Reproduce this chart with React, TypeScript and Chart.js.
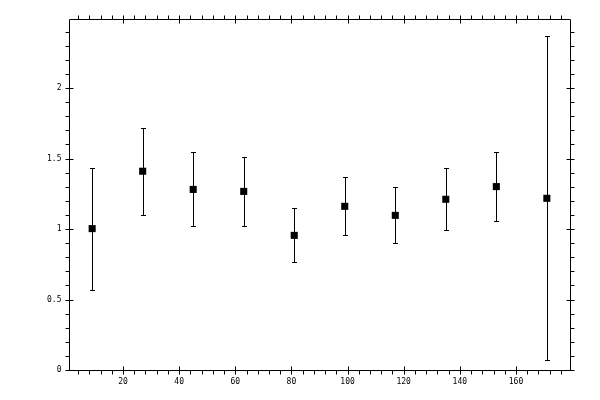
import React, { useEffect, useRef } from 'react';
import { Chart, registerables } from 'chart.js';

Chart.register(...registerables);

// bin centres and measured ratio with symmetric errors
const binCenters = [9, 27, 45, 63, 81, 99, 117, 135, 153, 171];
const ratioValues = [1.003, 1.41, 1.281, 1.267, 0.955, 1.161, 1.097, 1.211, 1.301, 1.218];
const ratioErrors = [0.432, 0.31, 0.263, 0.245, 0.192, 0.206, 0.199, 0.22, 0.245, 1.15];

const xMajorTicks = [20, 40, 60, 80, 100, 120, 140, 160];
const yMajorTicks = [0, 0.5, 1, 1.5, 2];
const xMinorStep = 4;
const yMinorStep = 0.1;

const X_MIN = 0.75;
const X_MAX = 179.25;
const Y_MIN = 0;
const Y_MAX = 2.49;

const FONT = '8px "DejaVu Sans Mono", monospace';

const framePlugin = {
  id: 'frameAndErrors',
  afterDatasetsDraw(chart: any) {
    const { ctx, chartArea, scales } = chart;
    const xs = scales.x;
    const ys = scales.y;
    const L = Math.round(chartArea.left) + 0.5;
    const R = Math.round(chartArea.right) + 0.5;
    const T = Math.round(chartArea.top) + 0.5;
    const B = Math.round(chartArea.bottom) + 0.5;
    ctx.save();
    ctx.strokeStyle = '#000';
    ctx.lineWidth = 1;

    // frame
    ctx.beginPath();
    ctx.rect(L, T, R - L, B - T);
    ctx.stroke();

    ctx.beginPath();
    // x ticks on bottom and top (minor outward, major crossing)
    for (let v = xMinorStep; v < X_MAX; v += xMinorStep) {
      if (v < X_MIN) continue;
      const px = Math.round(xs.getPixelForValue(v)) + 0.5;
      const major = xMajorTicks.includes(Math.round(v * 1000) / 1000);
      if (major) {
        ctx.moveTo(px, B - 4); ctx.lineTo(px, B + 4);
        ctx.moveTo(px, T - 4); ctx.lineTo(px, T + 4);
      } else {
        ctx.moveTo(px, B); ctx.lineTo(px, B + 4);
        ctx.moveTo(px, T); ctx.lineTo(px, T - 4);
      }
    }
    // y ticks on left and right
    for (let i = 0; i * yMinorStep <= Y_MAX + 1e-9; i++) {
      const v = Math.round(i * yMinorStep * 1000) / 1000;
      const py = Math.round(ys.getPixelForValue(v)) + 0.5;
      const major = yMajorTicks.includes(v);
      if (major) {
        ctx.moveTo(L - 4, py); ctx.lineTo(L + 4, py);
        ctx.moveTo(R - 4, py); ctx.lineTo(R + 4, py);
      } else {
        ctx.moveTo(L, py); ctx.lineTo(L - 4, py);
        ctx.moveTo(R, py); ctx.lineTo(R + 4, py);
      }
    }
    ctx.stroke();

    // labels
    ctx.fillStyle = '#000';
    ctx.font = FONT;
    ctx.textAlign = 'center';
    ctx.textBaseline = 'middle';
    xMajorTicks.forEach((v) => {
      ctx.fillText(String(v), xs.getPixelForValue(v), B + 11);
    });
    ctx.textAlign = 'right';
    yMajorTicks.forEach((v) => {
      ctx.fillText(String(v), L - 8, ys.getPixelForValue(v));
    });

    // error bars
    ctx.beginPath();
    binCenters.forEach((x, i) => {
      const px = Math.round(xs.getPixelForValue(x)) + 0.5;
      const top = Math.round(ys.getPixelForValue(ratioValues[i] + ratioErrors[i])) + 0.5;
      const bot = Math.round(ys.getPixelForValue(ratioValues[i] - ratioErrors[i])) + 0.5;
      ctx.moveTo(px, top); ctx.lineTo(px, bot);
      ctx.moveTo(px - 2.5, top); ctx.lineTo(px + 2.5, top);
      ctx.moveTo(px - 2.5, bot); ctx.lineTo(px + 2.5, bot);
    });
    ctx.stroke();
    ctx.restore();
  },
};

const RatioChart: React.FC = () => {
  const chartRef = useRef<HTMLCanvasElement>(null);
  const chartInstanceRef = useRef<Chart | null>(null);

  useEffect(() => {
    document.body.style.margin = '0';
    if (chartRef.current) {
      if (chartInstanceRef.current) {
        chartInstanceRef.current.destroy();
      }
      const ctx = chartRef.current.getContext('2d');
      if (ctx) {
        chartInstanceRef.current = new Chart(ctx, {
          type: 'scatter',
          data: {
            datasets: [{
              data: binCenters.map((x, i) => ({ x, y: ratioValues[i] })),
              backgroundColor: '#000',
              borderColor: '#000',
              borderWidth: 0,
              pointStyle: 'rect',
              pointRadius: 5,
              pointHoverRadius: 5,
            }]
          },
          options: {
            animation: false,
            responsive: false,
            events: [],
            layout: { padding: { left: 69, right: 30, top: 19, bottom: 30 } },
            scales: {
              x: { type: 'linear', min: X_MIN, max: X_MAX, display: false },
              y: { type: 'linear', min: Y_MIN, max: Y_MAX, display: false }
            },
            plugins: {
              legend: { display: false },
              tooltip: { enabled: false }
            }
          },
          plugins: [framePlugin]
        });
      }
    }
    return () => {
      if (chartInstanceRef.current) {
        chartInstanceRef.current.destroy();
        chartInstanceRef.current = null;
      }
    };
  }, []);

  return <canvas ref={chartRef} width={600} height={400} style={{ display: 'block' }}></canvas>;
};

export default function App() {
  return <RatioChart />;
}
